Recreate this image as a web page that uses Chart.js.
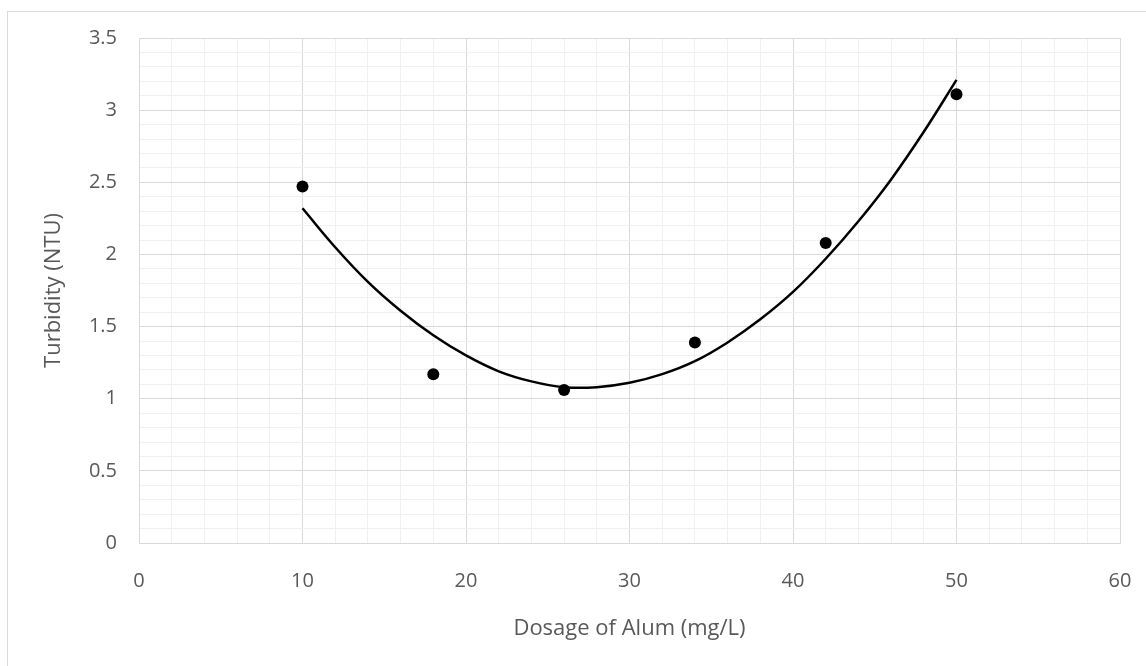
<!DOCTYPE html>
<html>
<head>
<meta charset="utf-8">
<script src="https://cdn.jsdelivr.net/npm/chart.js@4.4.0/dist/chart.umd.min.js"></script>
<style>
  html, body { margin: 0; padding: 0; background: #ffffff; }
  #wrap { width: 1146px; height: 666px; position: relative; }
</style>
</head>
<body>
<div id="wrap"><canvas id="c" width="1146" height="666"></canvas></div>
<script>
// Measured data (Dosage of Alum vs Turbidity)
const doseX = [10, 18, 26, 34, 42, 50];
const turbidity = [2.47, 1.17, 1.06, 1.39, 2.08, 3.11];

// Polynomial trendline
const trendX = [10, 12, 14, 16, 18, 20, 22, 24, 26, 28, 30, 32, 34, 36, 38, 40, 42, 44, 46, 48, 50];
const trendY = [2.32, 2.05, 1.81, 1.61, 1.44, 1.30, 1.19, 1.12, 1.08, 1.08, 1.11, 1.17, 1.26, 1.39, 1.55, 1.74, 1.97, 2.23, 2.52, 2.85, 3.21];

// Axis settings
const xMin = 0, xMax = 60, xMinorStep = 2, xMajorStep = 10;
const yMin = 0, yMax = 3.5, yMinorStep = 0.1, yMajorStep = 0.5;
const xTitle = 'Dosage of Alum (mg/L)';
const yTitle = 'Turbidity (NTU)';

const pointData = doseX.map((x, i) => ({ x: x, y: turbidity[i] }));
const trendData = trendX.map((x, i) => ({ x: x, y: trendY[i] }));

const FONT = '"Open Sans", "DejaVu Sans", sans-serif';
const TEXT = '#595959';
const MAJOR = '#d9d9d9';
const MINOR = '#f0f0f0';

function isMajorX(v) { return Math.abs(v / xMajorStep - Math.round(v / xMajorStep)) < 1e-6; }
function isMajorY(v) { return Math.abs(v / yMajorStep - Math.round(v / yMajorStep)) < 1e-6; }

const frame = {
  id: 'frame',
  beforeDraw(chart) {
    const ctx = chart.ctx;
    ctx.save();
    ctx.fillStyle = '#ffffff';
    ctx.fillRect(0, 0, chart.width, chart.height);
    ctx.strokeStyle = '#d9d9d9';
    ctx.lineWidth = 1;
    ctx.strokeRect(7.5, 11.5, chart.width + 20, chart.height + 20);
    ctx.restore();
  }
};

new Chart(document.getElementById('c'), {
  type: 'scatter',
  data: {
    datasets: [
      {
        label: 'Trendline',
        data: trendData,
        showLine: true,
        borderColor: '#000000',
        borderWidth: 2.5,
        pointRadius: 0,
        tension: 0.4,
        fill: false,
        order: 0
      },
      {
        label: 'Turbidity',
        data: pointData,
        showLine: false,
        pointRadius: 6,
        pointBackgroundColor: '#000000',
        pointBorderColor: '#000000',
        pointBorderWidth: 0,
        order: 1
      }
    ]
  },
  options: {
    responsive: false,
    animation: false,
    devicePixelRatio: 1,
    layout: { padding: { left: 0, top: 38, right: 26, bottom: 0 } },
    plugins: {
      legend: { display: false },
      tooltip: { enabled: false }
    },
    scales: {
      x: {
        type: 'linear',
        min: xMin, max: xMax,
        afterFit(scale) { scale.height = 123; scale.paddingLeft = 0; scale.paddingRight = 0; },
        border: { display: true, color: MAJOR, width: 1 },
        grid: {
          drawTicks: false,
          color: (c) => (c.tick && isMajorX(c.tick.value)) ? MAJOR : MINOR,
          lineWidth: 1
        },
        ticks: {
          stepSize: xMinorStep,
          autoSkip: false,
          maxRotation: 0,
          padding: 26,
          color: TEXT,
          font: { family: FONT, size: 20 },
          callback: (v) => isMajorX(v) ? String(Math.round(v)) : ''
        },
        title: {
          display: true,
          text: xTitle,
          color: TEXT,
          font: { family: FONT, size: 22 },
          padding: { top: 0, bottom: 24 }
        }
      },
      y: {
        type: 'linear',
        min: yMin, max: yMax,
        afterFit(scale) { scale.width = 139; scale.paddingTop = 0; scale.paddingBottom = 0; },
        border: { display: true, color: MAJOR, width: 1 },
        grid: {
          drawTicks: false,
          color: (c) => (c.tick && isMajorY(c.tick.value)) ? MAJOR : MINOR,
          lineWidth: 1
        },
        ticks: {
          stepSize: yMinorStep,
          autoSkip: false,
          padding: 22,
          color: TEXT,
          font: { family: FONT, size: 20 },
          callback: (v) => isMajorY(v) ? String(Math.round(v * 10) / 10) : ''
        },
        title: {
          display: true,
          text: yTitle,
          color: TEXT,
          font: { family: FONT, size: 22 },
          padding: { top: 41, bottom: 0 }
        }
      }
    }
  },
  plugins: [frame]
});
</script>
</body>
</html>
